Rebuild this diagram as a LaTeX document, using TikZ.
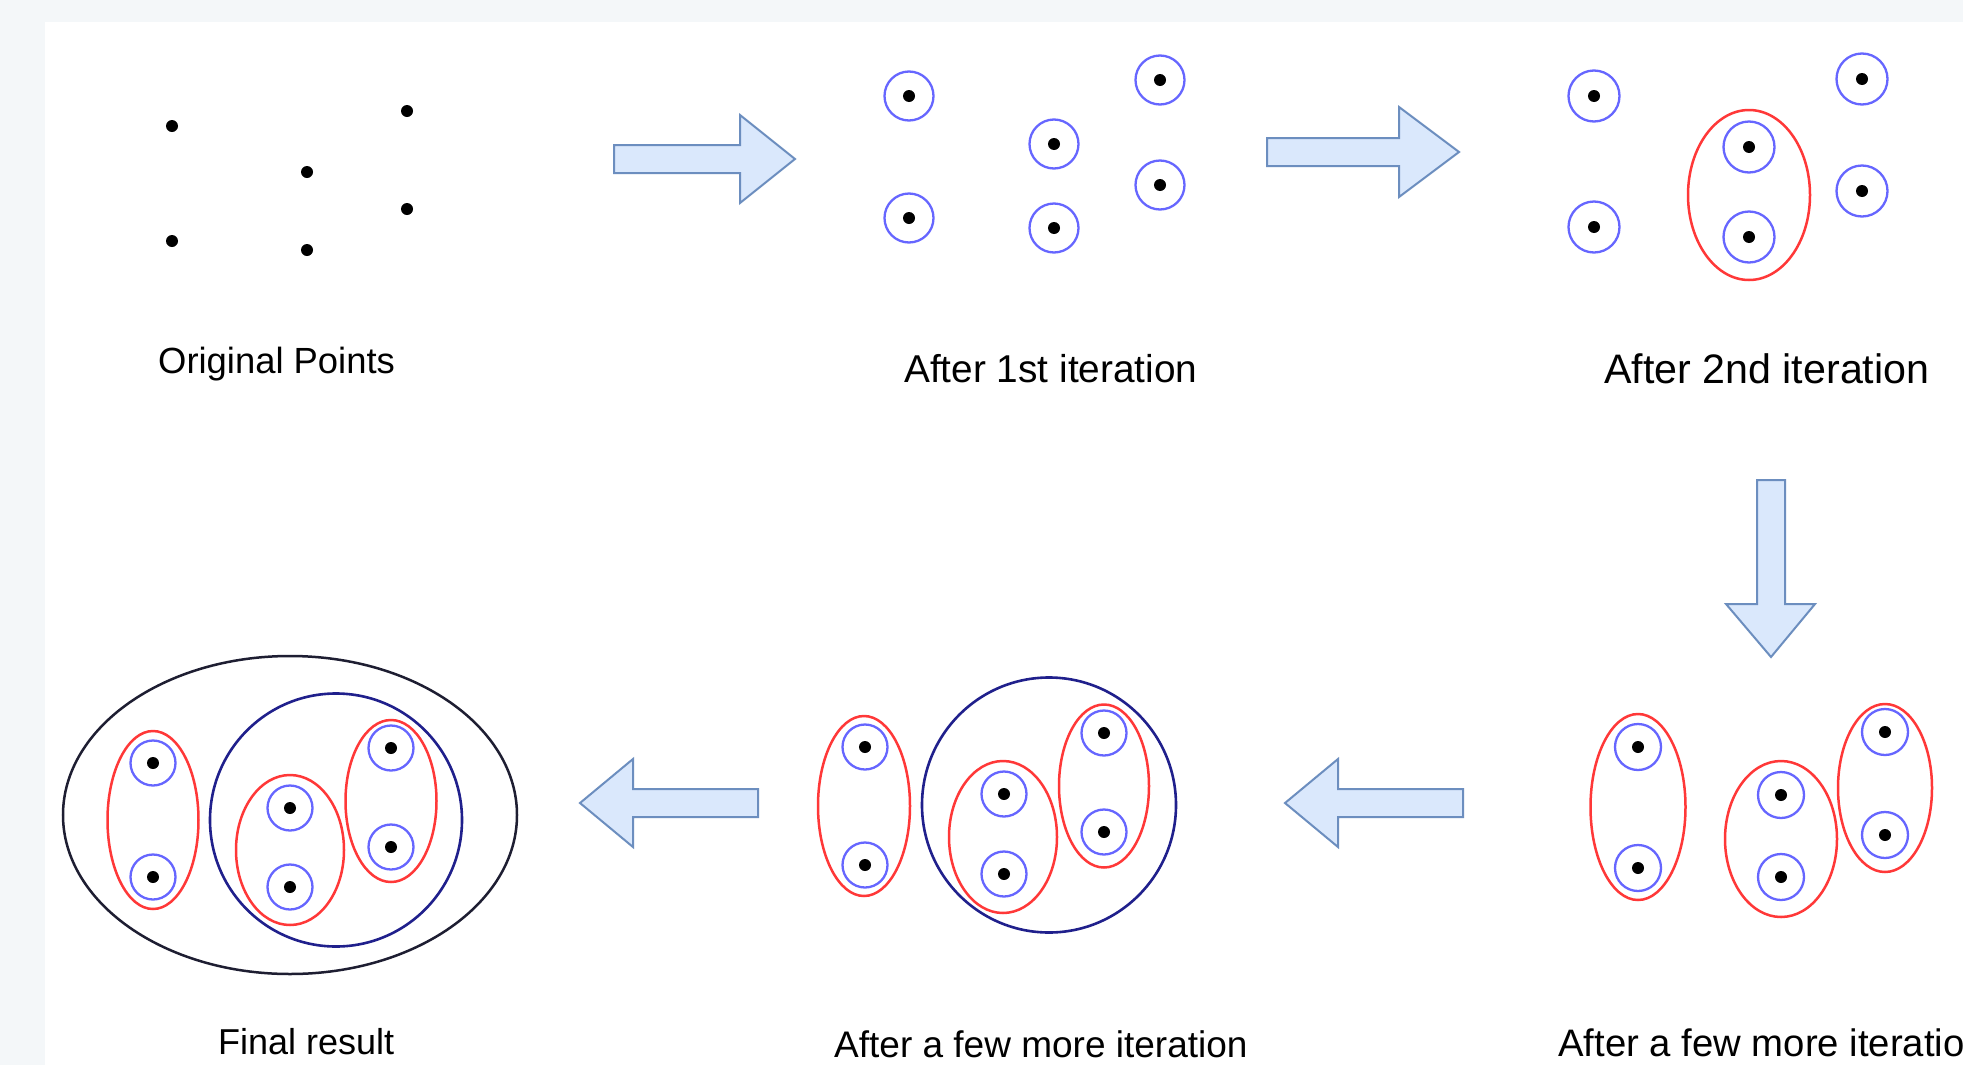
\documentclass[tikz,border=0pt]{standalone}
\usepackage{fontspec}
\setmainfont{Liberation Sans}
\usetikzlibrary{shapes.geometric}
\definecolor{bggrey}{RGB}{244,247,249}
\definecolor{ringblue}{RGB}{102,102,255}
\definecolor{clred}{RGB}{255,56,56}
\definecolor{navy}{RGB}{32,32,140}
\definecolor{outerblk}{RGB}{30,30,50}
\definecolor{arrfill}{HTML}{DAE8FC}
\definecolor{arrdraw}{HTML}{6C8EBF}
\tikzset{
  dotpt/.style={circle,fill=black,inner sep=0pt,minimum size=12bp},
  ring/.style={circle,draw=ringblue,line width=2.3bp,inner sep=0pt},
  redell/.style={ellipse,draw=clred,line width=2.5bp,inner sep=0pt},
  navyell/.style={ellipse,draw=navy,line width=2.6bp,inner sep=0pt},
  blkell/.style={ellipse,draw=outerblk,line width=2.5bp,inner sep=0pt},
  blockarrow/.style={fill=arrfill,draw=arrdraw,line width=2bp,line join=miter},
  lbl/.style={anchor=base west,inner sep=0pt,text=black}
}
\newcommand{\rpt}[4]{\node[ring,minimum size=#4bp] (#1) at (#2,#3) {}; \node[dotpt] (#1d) at (#1) {};}
\begin{document}
\begin{tikzpicture}[x=1bp,y=-1bp]
\useasboundingbox (0,0) rectangle (1963,1065);
\fill[bggrey] (0,0) rectangle (1963,1065);
\fill[white] (45,22) rectangle (1963,1065);

% Panel 1: original points
\node[dotpt] (o1) at (172,126) {};
\node[dotpt] (o2) at (407,111) {};
\node[dotpt] (o3) at (307,172) {};
\node[dotpt] (o4) at (407,209) {};
\node[dotpt] (o5) at (172,241) {};
\node[dotpt] (o6) at (307,250) {};
\node[lbl,font=\fontsize{36.4bp}{40bp}\selectfont] (t1) at (158,373) {Original Points};

% Arrow 1
\filldraw[blockarrow] (614,145) -- (740,145) -- (740,115) -- (795,159) -- (740,203) -- (740,173) -- (614,173) -- cycle;

% Panel 2
\rpt{a1}{909}{96}{49}
\rpt{a2}{909}{218}{49}
\rpt{a3}{1054}{144}{49}
\rpt{a4}{1054}{228}{49}
\rpt{a5}{1160}{80}{49}
\rpt{a6}{1160}{185}{49}
\node[lbl,font=\fontsize{38.8bp}{42bp}\selectfont] (t2) at (904,382) {After 1st iteration};

% Arrow 2
\filldraw[blockarrow] (1267,138) -- (1399,138) -- (1399,107) -- (1459,152) -- (1399,197) -- (1399,166) -- (1267,166) -- cycle;

% Panel 3
\rpt{b1}{1594}{96}{51}
\rpt{b2}{1594}{227}{51}
\rpt{b3}{1749}{147}{51}
\rpt{b4}{1749}{237}{51}
\rpt{b5}{1862}{79}{51}
\rpt{b6}{1862}{191}{51}
\node[redell,minimum width=122bp,minimum height=170bp] (be) at (1749,195) {};
\node[lbl,font=\fontsize{41.2bp}{44bp}\selectfont] (t3) at (1604,383) {After 2nd iteration};

% Arrow 3 (down)
\filldraw[blockarrow] (1757,480) -- (1757,604) -- (1726,604) -- (1771,657) -- (1815,604) -- (1785,604) -- (1785,480) -- cycle;

% Panel 4 (bottom right)
\rpt{c1}{1638}{747}{46}
\rpt{c2}{1638}{868}{46}
\rpt{c3}{1781}{795}{46}
\rpt{c4}{1781}{877}{46}
\rpt{c5}{1885}{732}{46}
\rpt{c6}{1885}{835}{46}
\node[redell,minimum width=95bp,minimum height=186bp] (ce1) at (1638,807) {};
\node[redell,minimum width=112bp,minimum height=156bp] (ce2) at (1781,839) {};
\node[redell,minimum width=94bp,minimum height=168bp] (ce3) at (1885,788) {};
\node[lbl,font=\fontsize{38.3bp}{42bp}\selectfont] (t4) at (1558,1056) {After a few more iteratio};

% Arrow 4 (left)
\filldraw[blockarrow] (1463,789) -- (1338,789) -- (1338,759) -- (1285,803) -- (1338,847) -- (1338,817) -- (1463,817) -- cycle;

% Panel 5 (bottom middle)
\node[navyell,minimum width=254bp,minimum height=255bp] (dn) at (1049,805) {};
\rpt{d1}{865}{747}{45}
\rpt{d2}{865}{865}{45}
\rpt{d3}{1004}{794}{45}
\rpt{d4}{1004}{874}{45}
\rpt{d5}{1104}{733}{45}
\rpt{d6}{1104}{832}{45}
\node[redell,minimum width=92bp,minimum height=180bp] (de1) at (864,806) {};
\node[redell,minimum width=108bp,minimum height=152bp] (de2) at (1003,837) {};
\node[redell,minimum width=90bp,minimum height=163bp] (de3) at (1104,786) {};
\node[lbl,font=\fontsize{37bp}{40bp}\selectfont] (t5) at (834,1057) {After a few more iteration};

% Arrow 5 (left)
\filldraw[blockarrow] (758,789) -- (633,789) -- (633,759) -- (580,803) -- (633,847) -- (633,817) -- (758,817) -- cycle;

% Panel 6 (final result)
\node[blkell,minimum width=454bp,minimum height=318bp] (fo) at (290,815) {};
\node[navyell,minimum width=252bp,minimum height=253bp] (fn) at (336,820) {};
\rpt{f1}{153}{763}{45}
\rpt{f2}{153}{877}{45}
\rpt{f3}{290}{808}{45}
\rpt{f4}{290}{887}{45}
\rpt{f5}{391}{748}{45}
\rpt{f6}{391}{847}{45}
\node[redell,minimum width=91bp,minimum height=178bp] (fe1) at (153,820) {};
\node[redell,minimum width=108bp,minimum height=150bp] (fe2) at (290,850) {};
\node[redell,minimum width=91bp,minimum height=162bp] (fe3) at (391,801) {};
\node[lbl,font=\fontsize{36bp}{40bp}\selectfont] (t6) at (218,1054) {Final result};
\end{tikzpicture}
\end{document}
